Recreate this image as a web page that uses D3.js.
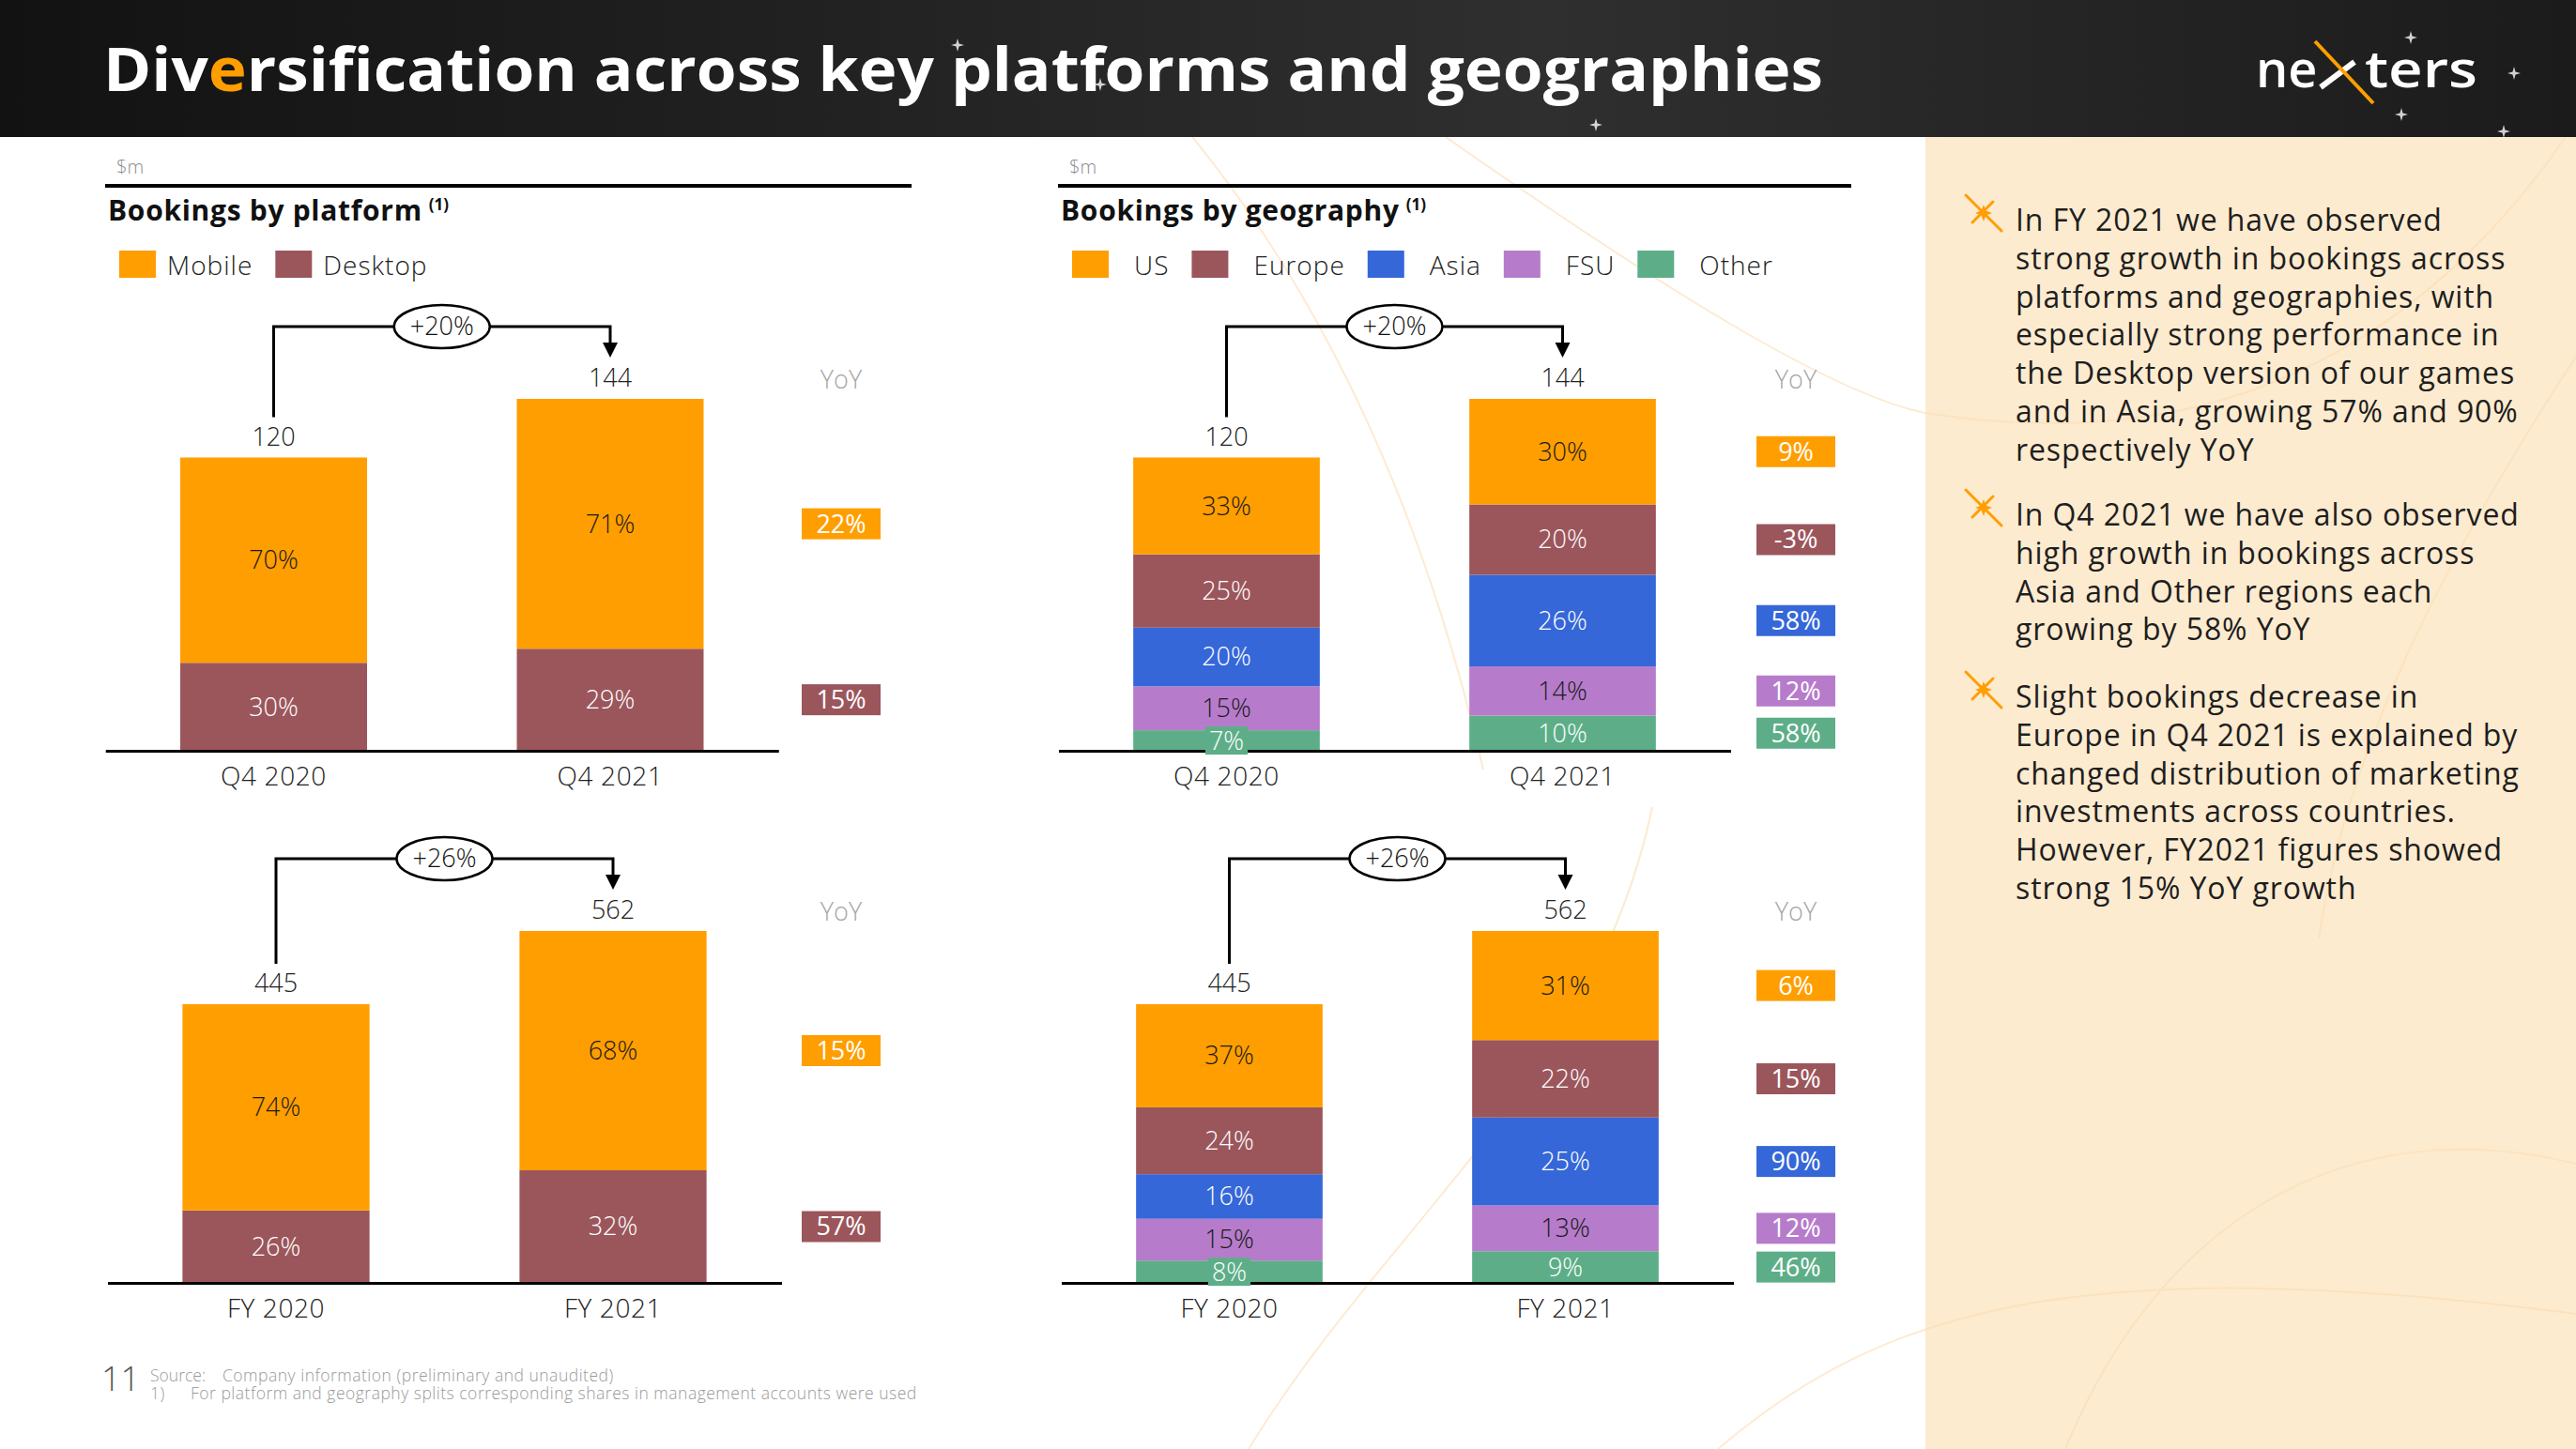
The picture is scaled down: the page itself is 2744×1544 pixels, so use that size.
<!DOCTYPE html>
<html>
<head>
<meta charset="utf-8">
<title>Diversification across key platforms and geographies</title>
<script src="https://cdn.jsdelivr.net/npm/d3@7"></script>
<style>
  html, body { margin: 0; padding: 0; background: #fff; }
  svg { display: block; font-family: 'Open Sans', sans-serif; }
</style>
</head>
<body>
<svg id="slide" width="2744" height="1544"></svg>
<script>
// ---- data ----
const q4Periods = ["Q4 2020", "Q4 2021"];
const fyPeriods = ["FY 2020", "FY 2021"];
const q4Totals = [120, 144];
const fyTotals = [445, 562];
const q4Growth = "+20%";
const fyGrowth = "+26%";

const platformSeries = ["Mobile", "Desktop"];
const platformQ4Shares = [[70, 30], [71, 29]];
const platformFYShares = [[74, 26], [68, 32]];
const platformQ4Yoy = ["22%", "15%"];
const platformFYYoy = ["15%", "57%"];

const geoSeries = ["US", "Europe", "Asia", "FSU", "Other"];
const geoQ4Shares = [[33, 25, 20, 15, 7], [30, 20, 26, 14, 10]];
const geoFYShares = [[37, 24, 16, 15, 8], [31, 22, 25, 13, 9]];
const geoQ4Yoy = ["9%", "-3%", "58%", "12%", "58%"];
const geoFYYoy = ["6%", "15%", "90%", "12%", "46%"];

const bullets = [
  ["In FY 2021 we have observed", "strong growth in bookings across", "platforms and geographies, with",
   "especially strong performance in", "the Desktop version of our games", "and in Asia, growing 57% and 90%",
   "respectively YoY"],
  ["In Q4 2021 we have also observed", "high growth in bookings across", "Asia and Other regions each",
   "growing by 58% YoY"],
  ["Slight bookings decrease in", "Europe in Q4 2021 is explained by", "changed distribution of marketing",
   "investments across countries.", "However, FY2021 figures showed", "strong 15% YoY growth"]
];

// ---- styles ----
const color = d3.scaleOrdinal()
  .domain(["Mobile", "Desktop", "US", "Europe", "Asia", "FSU", "Other"])
  .range(["#FF9E00", "#9B565C", "#FF9E00", "#9B565C", "#3567D8", "#B67CCB", "#5DAE88"]);
const darkText = new Set(["Mobile", "US", "FSU"]);
const W = 2744, H = 1544;
const ORANGE = "#FF9E00";

const svg = d3.select("#slide");
const defs = svg.append("defs");
const grad = defs.append("linearGradient").attr("id", "hdr").attr("x1", 0).attr("x2", 1);
grad.append("stop").attr("offset", 0).attr("stop-color", "#121212");
grad.append("stop").attr("offset", 0.6).attr("stop-color", "#2f2f2f");
grad.append("stop").attr("offset", 1).attr("stop-color", "#1b1b1b");

// backgrounds
svg.append("rect").attr("width", W).attr("height", H).attr("fill", "#fff");
svg.append("rect").attr("x", 2051).attr("y", 146).attr("width", W - 2051).attr("height", H - 146)
  .attr("fill", "#FDEBCF");

// faint decorative curves
const deco = svg.append("g").attr("fill", "none").attr("stroke", "#FBDDB4").attr("stroke-width", 2).attr("opacity", 0.6);
deco.append("path").attr("d", "M1540 146 C1760 300 1950 420 2051 440 C2300 480 2550 420 2744 130");
deco.append("path").attr("d", "M1270 146 C1420 330 1520 560 1580 820");
deco.append("path").attr("d", "M2744 380 C2600 600 2500 800 2470 1000");
deco.append("path").attr("d", "M1330 1544 C1480 1300 1700 1150 1760 860");
deco.append("path").attr("d", "M2744 1240 C2500 1180 2300 1300 2200 1544");
deco.append("path").attr("d", "M1830 1544 C2000 1400 2200 1330 2744 1400");

// header
svg.append("rect").attr("width", W).attr("height", 146).attr("fill", "url(#hdr)");
const stars = [[1020, 48], [1172, 90], [1700, 133], [2558, 122], [2678, 78], [2667, 140], [2568, 40]];
svg.append("g").selectAll("path").data(stars).join("path")
  .attr("d", d => `M${d[0]} ${d[1] - 7} L${d[0] + 1.5} ${d[1] - 1.5} L${d[0] + 7} ${d[1]} L${d[0] + 1.5} ${d[1] + 1.5} L${d[0]} ${d[1] + 7} L${d[0] - 1.5} ${d[1] + 1.5} L${d[0] - 7} ${d[1]} L${d[0] - 1.5} ${d[1] - 1.5}Z`)
  .attr("fill", "#fff").attr("opacity", 0.8);

const title = svg.append("text").attr("x", 110).attr("y", 97)
  .attr("font-size", 64).attr("font-weight", 700).attr("fill", "#fff")
  .attr("textLength", 1832).attr("lengthAdjust", "spacingAndGlyphs");
title.append("tspan").text("Div");
title.append("tspan").attr("fill", ORANGE).text("e");
title.append("tspan").text("rsification across key platforms and geographies");

// logo
const logo = svg.append("g");
logo.append("text").attr("x", 2403).attr("y", 93).attr("font-size", 54).attr("font-weight", 600)
  .attr("fill", "#fff").text("ne");
logo.append("text").attr("x", 2519).attr("y", 93).attr("font-size", 54).attr("font-weight", 600)
  .attr("fill", "#fff").attr("textLength", 120).attr("lengthAdjust", "spacingAndGlyphs").text("ters");
logo.append("line").attr("x1", 2472).attr("y1", 93).attr("x2", 2508).attr("y2", 66)
  .attr("stroke", "#fff").attr("stroke-width", 6);
logo.append("line").attr("x1", 2466).attr("y1", 44).attr("x2", 2528).attr("y2", 110)
  .attr("stroke", ORANGE).attr("stroke-width", 4);

// ---- section headers ----
function sectionHeader(x0, x1, name, series, textGap) {
  const g = svg.append("g");
  g.append("text").attr("x", x0 + 12).attr("y", 185).attr("font-size", 20).attr("font-weight", 300)
    .attr("fill", "#8c8c8c").text("$m");
  g.append("line").attr("x1", x0).attr("x2", x1).attr("y1", 198).attr("y2", 198)
    .attr("stroke", "#000").attr("stroke-width", 4);
  const t = g.append("text").attr("x", x0 + 3).attr("y", 235).attr("font-size", 30).attr("font-weight", 700)
    .attr("letter-spacing", 0.7).attr("fill", "#111").text(name);
  t.append("tspan").attr("dx", 7).attr("dy", -11).attr("font-size", 17).attr("letter-spacing", 0).text("(1)");

  let cx = x0 + 15;
  series.forEach(s => {
    g.append("rect").attr("x", cx).attr("y", 267).attr("width", 39).attr("height", 29).attr("fill", color(s));
    const lt = g.append("text").attr("x", cx + 39 + textGap).attr("y", 293).attr("font-size", 28)
      .attr("font-weight", 300).attr("letter-spacing", 1).attr("fill", "#222").text(s);
    cx = cx + 39 + textGap + lt.node().getComputedTextLength() + 24;
  });
}
sectionHeader(112, 971, "Bookings by platform", platformSeries, 12);
sectionHeader(1127, 1972, "Bookings by geography", geoSeries, 27);

// ---- stacked bar charts ----
function drawChart(cfg) {
  const g = svg.append("g");
  const step = cfg.c2 - cfg.c1;
  const x = d3.scaleBand().domain(cfg.periods)
    .range([cfg.c1 - step / 2, cfg.c2 + step / 2])
    .paddingInner(0.445).paddingOuter(0.2225);
  const y = d3.scaleLinear().domain([0, d3.max(cfg.totals)]).range([cfg.axisY, cfg.axisY - 375]);

  const rows = cfg.periods.map((p, i) => {
    const r = { period: p };
    cfg.series.forEach((s, j) => { r[s] = cfg.shares[i][j] * cfg.totals[i] / 100; r[s + "_pct"] = cfg.shares[i][j]; });
    return r;
  });
  const stacked = d3.stack().keys(cfg.series.slice().reverse())(rows);

  const layers = g.selectAll("g.layer").data(stacked).join("g").attr("class", "layer")
    .attr("fill", d => color(d.key));
  layers.selectAll("rect").data(d => d).join("rect")
    .attr("x", d => x(d.data.period))
    .attr("width", x.bandwidth())
    .attr("y", d => y(d[1]))
    .attr("height", d => y(d[0]) - y(d[1]));

  // x axis
  const ax = g.append("g").attr("transform", `translate(0,${cfg.axisY})`)
    .call(d3.axisBottom(x).tickSize(0).tickSizeOuter(0).tickPadding(17));
  ax.select(".domain").attr("stroke", "#000").attr("stroke-width", 3);
  ax.attr("font-size", 28).attr("font-family", null).attr("color", "#222");
  ax.selectAll("text").attr("font-weight", 300).attr("letter-spacing", 0.6);

  // segment labels
  stacked.forEach(layer => {
    layer.forEach(d => {
      const cx = x(d.data.period) + x.bandwidth() / 2;
      const cy = (y(d[0]) + y(d[1])) / 2;
      const lg = g.append("g");
      const lt = lg.append("text").attr("x", cx).attr("y", cy).attr("dy", "0.35em")
        .attr("text-anchor", "middle").attr("font-size", 27).attr("font-weight", 300)
        .attr("fill", darkText.has(layer.key) ? "#1a1a1a" : "#fff")
        .text(d.data[layer.key + "_pct"] + "%");
      const w = lt.node().getComputedTextLength();
      lg.insert("rect", "text").attr("x", cx - w / 2 - 4).attr("y", cy - 15)
        .attr("width", w + 8).attr("height", 30).attr("fill", color(layer.key));
    });
  });

  // totals
  g.selectAll("text.total").data(rows).join("text").attr("class", "total")
    .attr("x", d => x(d.period) + x.bandwidth() / 2)
    .attr("y", (d, i) => y(cfg.totals[i]) - 13)
    .attr("text-anchor", "middle").attr("font-size", 27).attr("font-weight", 300).attr("fill", "#222")
    .text((d, i) => cfg.totals[i]);

  // growth bracket
  const xa = x(cfg.periods[0]) + x.bandwidth() / 2;
  const xb = x(cfg.periods[1]) + x.bandwidth() / 2;
  const top2 = y(cfg.totals[1]);
  const hy = top2 - 77;
  const tip = top2 - 44;
  g.append("path")
    .attr("d", `M${xa} ${y(cfg.totals[0]) - 43} V${hy} H${xb} V${tip - 14}`)
    .attr("fill", "none").attr("stroke", "#000").attr("stroke-width", 3);
  g.append("path").attr("d", `M${xb - 8} ${tip - 16} L${xb + 8} ${tip - 16} L${xb} ${tip} Z`).attr("fill", "#000");
  g.append("ellipse").attr("cx", (xa + xb) / 2).attr("cy", hy).attr("rx", 51).attr("ry", 23)
    .attr("fill", "#fff").attr("stroke", "#000").attr("stroke-width", 2.5);
  g.append("text").attr("x", (xa + xb) / 2).attr("y", hy).attr("dy", "0.35em")
    .attr("text-anchor", "middle").attr("font-size", 27).attr("font-weight", 300).attr("fill", "#111")
    .text(cfg.growth);

  // YoY column
  g.append("text").attr("x", cfg.yoyX).attr("y", top2 - 11).attr("text-anchor", "middle")
    .attr("font-size", 27).attr("font-weight", 300).attr("fill", "#a6a6a6").text("YoY");
  const last = stacked.map(layer => ({ key: layer.key, d: layer[1] }));
  const yoyByKey = {};
  cfg.series.forEach((s, j) => { yoyByKey[s] = cfg.yoy[j]; });
  const boxes = g.selectAll("g.yoy").data(last).join("g").attr("class", "yoy")
    .attr("transform", d => `translate(${cfg.yoyX},${(y(d.d[0]) + y(d.d[1])) / 2})`);
  boxes.append("rect").attr("x", -42).attr("y", -16.5).attr("width", 84).attr("height", 33)
    .attr("fill", d => color(d.key));
  boxes.append("text").attr("text-anchor", "middle").attr("dy", "0.35em")
    .attr("font-size", 27).attr("font-weight", 500).attr("fill", "#fff")
    .text(d => yoyByKey[d.key]);
}

drawChart({ periods: q4Periods, totals: q4Totals, series: platformSeries, shares: platformQ4Shares,
  yoy: platformQ4Yoy, growth: q4Growth, c1: 291.5, c2: 650, axisY: 800, yoyX: 896 });
drawChart({ periods: fyPeriods, totals: fyTotals, series: platformSeries, shares: platformFYShares,
  yoy: platformFYYoy, growth: fyGrowth, c1: 294, c2: 653, axisY: 1367, yoyX: 896 });
drawChart({ periods: q4Periods, totals: q4Totals, series: geoSeries, shares: geoQ4Shares,
  yoy: geoQ4Yoy, growth: q4Growth, c1: 1306.5, c2: 1664.5, axisY: 800, yoyX: 1913 });
drawChart({ periods: fyPeriods, totals: fyTotals, series: geoSeries, shares: geoFYShares,
  yoy: geoFYYoy, growth: fyGrowth, c1: 1309.5, c2: 1667.5, axisY: 1367, yoyX: 1913 });

// ---- commentary bullets ----
const bulletTop = [246, 560, 754];
const lineH = 40.8;
bullets.forEach((lines, i) => {
  const by = bulletTop[i];
  const ic = svg.append("g").attr("transform", `translate(2113,${by - 19})`);
  ic.append("line").attr("x1", -19).attr("y1", -19).attr("x2", 19).attr("y2", 19)
    .attr("stroke", ORANGE).attr("stroke-width", 3).attr("stroke-linecap", "round");
  ic.append("line").attr("x1", -12).attr("y1", 10).attr("x2", 10).attr("y2", -12)
    .attr("stroke", ORANGE).attr("stroke-width", 3).attr("stroke-linecap", "round");
  ic.append("path").attr("d", "M0 -9 L2.5 -2.5 L9 0 L2.5 2.5 L0 9 L-2.5 2.5 L-9 0 L-2.5 -2.5Z").attr("fill", ORANGE);
  svg.append("g").selectAll("text").data(lines).join("text")
    .attr("x", 2147).attr("y", (d, k) => by + k * lineH)
    .attr("font-size", 32).attr("letter-spacing", 0.9).attr("fill", "#1e1e1e").text(d => d);
});

// ---- footer ----
svg.append("text").attr("x", 108).attr("y", 1482).attr("font-size", 36).attr("font-weight", 300)
  .attr("fill", "#555").text("11");
const foot = svg.append("g").attr("font-size", 17.5).attr("letter-spacing", 0.5)
  .attr("font-weight", 300).attr("fill", "#9a9a9a");
foot.append("text").attr("x", 160).attr("y", 1472).attr("letter-spacing", 0).text("Source:");
foot.append("text").attr("x", 237).attr("y", 1472).text("Company information (preliminary and unaudited)");
foot.append("text").attr("x", 160).attr("y", 1491).text("1)");
foot.append("text").attr("x", 203).attr("y", 1491).text("For platform and geography splits corresponding shares in management accounts were used");
</script>
</body>
</html>
